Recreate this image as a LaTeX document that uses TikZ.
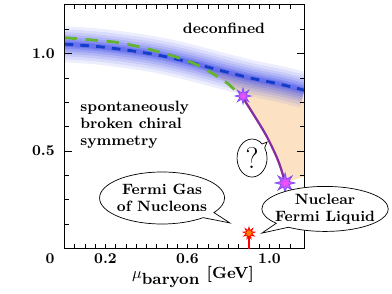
\documentclass[tikz,border=0pt]{standalone}
\usetikzlibrary{shapes.geometric,shapes.callouts}
\definecolor{bandblue}{RGB}{80,90,235}
\definecolor{lineblue}{RGB}{20,60,200}
\definecolor{lgreen}{RGB}{100,180,50}
\definecolor{cepviolet}{RGB}{150,90,245}
\definecolor{peach}{RGB}{252,226,194}
\definecolor{transline}{RGB}{135,45,160}
\tikzset{
  lbl/.style={font=\fontsize{8.5}{9.8}\selectfont\bfseries},
  bubble/.style={ellipse callout, draw, fill=white, thin, lbl, align=center, inner ysep=0pt, inner xsep=-3pt},
  cpstar/.style={star, star points=8, star point ratio=2.4, inner color=magenta!70, outer color=cepviolet, draw=cepviolet!85!blue, inner sep=0pt, minimum size=#1},
  nmstar/.style={star, star points=9, star point ratio=2.2, fill=orange, draw=red, thin, inner sep=0pt, minimum size=0.24cm}
}
\begin{document}
\begin{tikzpicture}[x=4.1cm,y=3.9cm]
\useasboundingbox (-0.3146,-0.2333) rectangle (1.5976,1.2744);
\coordinate (CEP) at (0.871,0.782);
\coordinate (LGP) at (1.076,0.336);
\coordinate (NM)  at (0.9,0.079);
\coordinate (NM0) at (0.9,0);

\begin{scope}
\clip (0,0) rectangle (1.17,1.25);
\fill[peach] plot[smooth] coordinates {(0.6,0.958) (0.710,0.905) (0.793,0.849) (0.841,0.803) (0.871,0.782)}
  -- plot[smooth] coordinates {(0.871,0.782) (0.939,0.659) (0.988,0.572) (1.035,0.469) (1.058,0.403) (1.076,0.336)}
  -- (1.17,0.37) -- (1.17,0.812) -- (1.05,0.843) -- (0.9,0.876) -- (0.75,0.916) -- cycle;
\foreach \w/\o in {0.72/0.1,0.6/0.12,0.48/0.14,0.38/0.17,0.28/0.22,0.18/0.32,0.1/0.5}
{
    \draw[line width=\w cm, bandblue, opacity=\o] plot[smooth] coordinates {(0,1.048) (0.15,1.037) (0.3,1.018) (0.45,0.993) (0.6,0.958) (0.75,0.916) (0.9,0.876) (1.05,0.843) (1.17,0.812)};
}
\draw[lineblue, line width=1.6pt, dash pattern=on 5pt off 4pt] plot[smooth] coordinates {(0,1.048) (0.15,1.037) (0.3,1.018) (0.45,0.993) (0.6,0.958) (0.75,0.916) (0.9,0.876) (1.05,0.843) (1.17,0.812)};
\draw[lgreen, line width=1.6pt, dash pattern=on 7pt off 5pt] plot[smooth] coordinates {(0,1.081) (0.139,1.069) (0.256,1.057) (0.383,1.030) (0.515,0.992) (0.627,0.951) (0.710,0.905) (0.793,0.849) (0.841,0.803) (0.871,0.782)};
\end{scope}

\draw[transline, line width=1.3pt] plot[smooth] coordinates {(0.871,0.772) (0.939,0.659) (0.988,0.572) (1.035,0.469) (1.058,0.403) (1.076,0.336)};

% frame and ticks
\draw[line width=0.8pt] (0,0) rectangle (1.17,1.25);
\foreach \x in {0.05,0.1,...,1.15}
{
    \draw (\x,0) -- ++(0pt,2.5pt);
    \draw (\x,1.25) -- ++(0pt,-2.5pt);
}
\foreach \y in {0.125,0.25,...,1.2}
{
    \draw (0,\y) -- ++(2.5pt,0pt);
    \draw (1.17,\y) -- ++(-2.5pt,0pt);
}
\foreach \y in {0.5,1}
{
    \draw (0,\y) -- ++(4pt,0pt);
    \draw (1.17,\y) -- ++(-4pt,0pt);
}

% tick labels
\node[lbl] (x0) at (-0.07,-0.054) {0};
\node[lbl] (x2) at (0.2,-0.054) {0.2};
\node[lbl] (x6) at (0.6,-0.054) {0.6};
\node[lbl] (x10) at (1.0,-0.054) {1.0};
\node[lbl, anchor=east, inner sep=0pt] (y5) at (-0.046,0.5) {0.5};
\node[lbl, anchor=east, inner sep=0pt] (y10) at (-0.046,1) {1.0};
\node[font=\fontsize{9.2}{11}\selectfont\bfseries] (xlab) at (0.627,-0.146) {$\mu_{\textbf{baryon}}$ [GeV]};

% regions
\node[lbl] (dec) at (0.778,1.131) {deconfined};
\node[lbl, align=left, anchor=west, inner sep=0pt] (chi) at (0.0756,0.633) {spontaneously\\broken chiral\\symmetry};

% points
\node[cpstar=0.32cm] (cep) at (CEP) {};
\node[cpstar=0.4cm] (lgp) at (LGP) {};
\node[nmstar] (nm) at (NM) {};
\draw[red, line width=0.9pt] (nm) -- (NM0);

% bubbles
\coordinate (qtip) at (0.988,0.546);
\coordinate (gastip) at (0.807,0.131);
\coordinate (nfltip) at (0.963,0.079);
\node[bubble, inner sep=0pt, minimum width=0.6cm, minimum height=0.76cm, font=\fontsize{17}{20}\selectfont, callout absolute pointer={(qtip)}] (q) at (0.915,0.464) {?};
\node[bubble, minimum width=2.5cm, minimum height=1.04cm, callout absolute pointer={(gastip)}] (gas) at (0.476,0.259) {Fermi Gas\\of Nucleons};
\node[bubble, minimum height=0.9cm, callout absolute pointer={(nfltip)}] (nfl) at (1.271,0.203) {Nuclear\\Fermi Liquid};
\end{tikzpicture}
\end{document}
